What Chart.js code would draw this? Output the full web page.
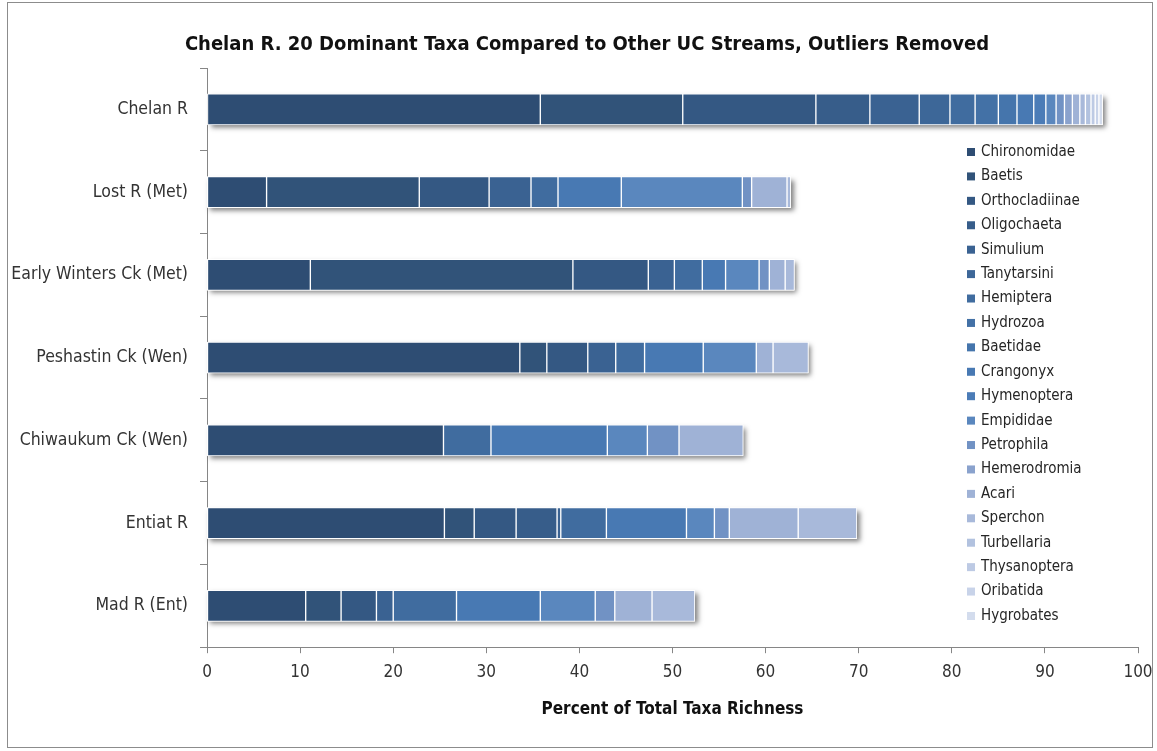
<!DOCTYPE html>
<html>
<head>
<meta charset="utf-8">
<script src="https://cdn.jsdelivr.net/npm/chart.js@4.4.1/dist/chart.umd.min.js"></script>
<style>
  html, body { margin: 0; padding: 0; background: #ffffff; }
  #wrap { width: 1157px; height: 751px; }
</style>
</head>
<body>
<div id="wrap"><canvas id="c" width="1157" height="751"></canvas></div>
<script>
// Streams (bar categories), top to bottom
const streams = ['Chelan R', 'Lost R (Met)', 'Early Winters Ck (Met)', 'Peshastin Ck (Wen)',
                 'Chiwaukum Ck (Wen)', 'Entiat R', 'Mad R (Ent)'];

// The 20 dominant taxa of the Chelan R, in stacking order
const taxa = ['Chironomidae', 'Baetis', 'Orthocladiinae', 'Oligochaeta', 'Simulium', 'Tanytarsini',
              'Hemiptera', 'Hydrozoa', 'Baetidae', 'Crangonyx', 'Hymenoptera', 'Empididae',
              'Petrophila', 'Hemerodromia', 'Acari', 'Sperchon', 'Turbellaria', 'Thysanoptera',
              'Oribatida', 'Hygrobates'];

// Percent of total taxa richness per taxon (same order as taxa); null = taxon absent
const chelanR      = [35.8, 15.3, 14.3, 5.8, 5.3, 3.3, 2.7, 2.5, 2.0, 1.8, 1.3, 1.1, 0.9, 0.85, 0.8, 0.6, 0.6, 0.45, 0.4, 0.4];
const lostR        = [6.4, 16.4, 7.5, null, 4.5, null, 2.9, null, null, 6.8, null, 13.0, 1.0, null, 3.8, 0.4, null, null, null, null];
const earlyWinters = [11.1, 28.2, 8.1, null, 2.8, null, 3.0, null, null, 2.5, null, 3.6, 1.1, null, 1.7, 1.0, null, null, null, null];
const peshastin    = [33.6, 2.9, 4.4, null, 3.0, null, 3.1, null, null, 6.3, null, 5.7, null, null, 1.8, 3.8, null, null, null, null];
const chiwaukum    = [25.4, null, null, null, null, null, 5.1, null, null, 12.5, null, 4.3, 3.4, null, 6.9, null, null, null, null, null];
const entiatR      = [25.5, 3.2, 4.5, 4.4, 0.4, null, 4.9, null, null, 8.6, null, 3.0, 1.6, null, 7.4, 6.3, null, null, null, null];
const madR         = [10.6, 3.8, 3.8, null, 1.8, null, 6.8, null, null, 9.0, null, 5.9, 2.1, null, 4.0, 4.6, null, null, null, null];

const xTicks = [0, 10, 20, 30, 40, 50, 60, 70, 80, 90, 100];

const chartTitle = 'Chelan R. 20 Dominant Taxa Compared to Other UC Streams, Outliers Removed';

// Blue ramp, darkest for the most dominant taxon
const taxaColors = ['#2e4d73', '#315379', '#345883', '#375d8a', '#3a6292', '#3d6798',
                    '#406c9f', '#4371a6', '#4575ac', '#4879b3', '#4b7cb7', '#5a87be',
                    '#7192c4', '#8aa2cd', '#9fb2d6', '#a8b9da', '#b2c2df', '#bdcae4',
                    '#c8d3e9', '#d3dced'];

const rows = [chelanR, lostR, earlyWinters, peshastin, chiwaukum, entiatR, madR];

const datasets = taxa.map((name, t) => ({
  label: name,
  data: rows.map(r => r[t]),
  backgroundColor: taxaColors[t],
  borderColor: '#ffffff',
  borderWidth: 1,
  borderSkipped: false,
  barThickness: 31
}));

const FONT = '"Liberation Sans Narrow", "Arial Narrow", "DejaVu Sans Condensed", "Liberation Sans", sans-serif';

// Soft drop shadow behind each whole stacked bar
const barShadow = {
  id: 'barShadow',
  beforeDatasetsDraw(chart) {
    const ctx = chart.ctx;
    const metas = chart.getSortedVisibleDatasetMetas();
    ctx.save();
    ctx.shadowColor = 'rgba(0,0,0,0.5)';
    ctx.shadowBlur = 5;
    ctx.shadowOffsetX = 3;
    ctx.shadowOffsetY = 3;
    ctx.fillStyle = '#ffffff';
    for (let i = 0; i < chart.data.labels.length; i++) {
      let lo = Infinity, hi = -Infinity, y = null, h = null;
      metas.forEach(m => {
        const el = m.data[i];
        if (!el || el.skip || isNaN(el.x)) return;
        const p = el.getProps(['x', 'y', 'base', 'height'], true);
        lo = Math.min(lo, p.base, p.x);
        hi = Math.max(hi, p.base, p.x);
        y = p.y; h = p.height;
      });
      if (y !== null) ctx.fillRect(lo, y - h / 2, hi - lo, h);
    }
    ctx.restore();
  }
};

// Legend list inside the plot, right side
const sideLegend = {
  id: 'sideLegend',
  afterDraw(chart) {
    const ctx = chart.ctx;
    ctx.save();
    ctx.font = '15px ' + FONT;
    ctx.textBaseline = 'middle';
    ctx.textAlign = 'left';
    chart.data.datasets.forEach((ds, i) => {
      const y = 152 + i * 24.42;
      ctx.fillStyle = ds.backgroundColor;
      ctx.fillRect(967, y - 4, 8, 8);
      ctx.fillStyle = '#262626';
      ctx.fillText(ds.label, 981, y);
    });
    ctx.restore();
  }
};

// Frame round the whole chart, and the heading above the plot
const frame = {
  id: 'frame',
  beforeDraw(chart) {
    const ctx = chart.ctx;
    ctx.save();
    ctx.fillStyle = '#ffffff';
    ctx.fillRect(0, 0, chart.width, chart.height);
    ctx.strokeStyle = '#8c8c8c';
    ctx.lineWidth = 1;
    ctx.strokeRect(7.5, 2.5, 1145, 745);
    ctx.font = 'bold 20px ' + FONT;
    ctx.fillStyle = '#111111';
    ctx.textAlign = 'center';
    ctx.textBaseline = 'middle';
    ctx.fillText(chartTitle, 587, 45);
    ctx.restore();
  }
};

new Chart(document.getElementById('c'), {
  type: 'bar',
  data: { labels: streams, datasets },
  options: {
    indexAxis: 'y',
    responsive: false,
    animation: false,
    layout: { padding: { left: 8, right: 19, top: 68, bottom: 31 } },
    plugins: {
      legend: { display: false },
      tooltip: { enabled: false },
      title: { display: false }
    },
    scales: {
      x: {
        stacked: true,
        min: 0,
        max: 100,
        afterBuildTicks(scale) { scale.ticks = xTicks.map(v => ({ value: v })); },
        afterFit(scale) { scale.paddingLeft = 0; scale.paddingRight = 0; },
        grid: { drawOnChartArea: false, drawTicks: true, tickLength: 6, color: '#868686' },
        border: { display: true, color: '#868686', width: 1 },
        ticks: { color: '#333333', font: { family: FONT, size: 17 }, padding: 9, maxRotation: 0 },
        title: {
          display: true,
          text: 'Percent of Total Taxa Richness',
          color: '#111111',
          font: { family: FONT, size: 17, weight: 'bold' },
          padding: { top: 8, bottom: 0 }
        }
      },
      y: {
        stacked: true,
        afterFit(scale) { scale.width = 199; scale.paddingTop = 0; scale.paddingBottom = 0; },
        grid: { offset: true, drawOnChartArea: false, drawTicks: true, tickLength: 7, color: '#868686' },
        border: { display: true, color: '#868686', width: 1 },
        ticks: { color: '#333333', font: { family: FONT, size: 17.5 }, padding: 12 }
      }
    }
  },
  plugins: [frame, barShadow, sideLegend]
});
</script>
</body>
</html>
